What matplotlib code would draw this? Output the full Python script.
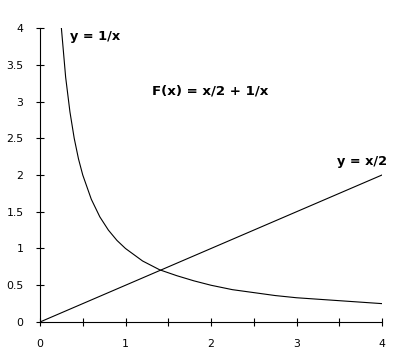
import matplotlib
matplotlib.use("Agg")
import matplotlib.pyplot as plt
from matplotlib.ticker import MultipleLocator

# y = 1/x series
x_inv = [0.25, 0.30, 0.35, 0.40, 0.45, 0.50, 0.60, 0.70, 0.80, 0.90, 1.00,
         1.20, 1.40, 1.60, 1.80, 2.00, 2.25, 2.50, 2.75, 3.00, 3.25, 3.50, 3.75, 4.00]
y_inv = [4.00, 3.33, 2.86, 2.50, 2.22, 2.00, 1.67, 1.43, 1.25, 1.11, 1.00,
         0.83, 0.71, 0.63, 0.56, 0.50, 0.44, 0.40, 0.36, 0.33, 0.31, 0.29, 0.27, 0.25]

# y = x/2 series
x_half = [0.0, 1.0, 2.0, 3.0, 4.0]
y_half = [0.0, 0.5, 1.0, 1.5, 2.0]

x_ticks = [0, 1, 2, 3, 4]
y_ticks = [0, 0.5, 1, 1.5, 2, 2.5, 3, 3.5, 4]
y_tick_labels = ["0", "0.5", "1", "1.5", "2", "2.5", "3", "3.5", "4"]

fig = plt.figure(figsize=(4.0, 3.54), dpi=100)
ax = fig.add_axes([0.1, 0.0904, 0.855, 0.8305])

ax.plot(x_inv, y_inv, color="black", lw=0.8)
ax.plot(x_half, y_half, color="black", lw=0.8)

ax.set_xlim(0, 4)
ax.set_ylim(0, 4)
ax.set_xticks(x_ticks)
ax.set_xticklabels([str(t) for t in x_ticks])
ax.xaxis.set_minor_locator(MultipleLocator(0.5))
ax.set_yticks(y_ticks)
ax.set_yticklabels(y_tick_labels)

for s in ["top", "right"]:
    ax.spines[s].set_visible(False)
for s in ["left", "bottom"]:
    ax.spines[s].set_linewidth(0.8)
    ax.spines[s].set_clip_on(False)

ax.tick_params(axis="both", which="both", direction="inout", length=5.8, width=0.8,
               labelsize=7.8, colors="black")
ax.tick_params(axis="x", pad=9)
ax.tick_params(axis="y", pad=9)

ax.text(0.35, 3.88, "y = 1/x", fontsize=9.3, fontweight="bold", va="center", ha="left")
ax.text(1.31, 3.14, "F(x) = x/2 + 1/x", fontsize=9.6, fontweight="bold", va="center", ha="left")
ax.text(3.47, 2.18, "y = x/2", fontsize=9.3, fontweight="bold", va="center", ha="left")

fig.savefig("out.png", dpi=100)
